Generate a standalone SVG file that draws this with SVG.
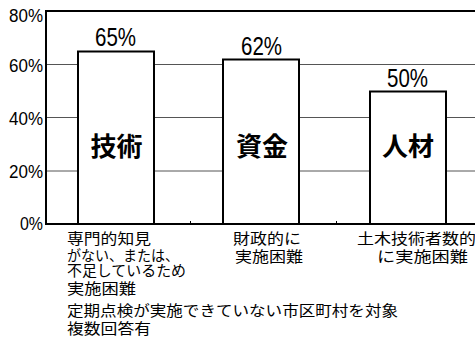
<svg xmlns="http://www.w3.org/2000/svg" width="475" height="339" viewBox="0 0 475 339">
<style>
.grid{stroke:#555;stroke-width:1;fill:none}
.axis{stroke:#000;stroke-width:2;fill:none}
.bar{fill:#fff;stroke:#000;stroke-width:2}
.ax{font-family:"Liberation Sans",Arial,sans-serif;font-size:18px;fill:#000;text-anchor:end}
.val{font-family:"Liberation Sans",Arial,sans-serif;font-size:25px;fill:#000}
.blab{font-family:"Noto Sans CJK JP","Noto Sans",sans-serif;font-size:26px;font-weight:bold;fill:#000;text-anchor:middle}
.cat{font-family:"Noto Sans CJK JP","Noto Sans",sans-serif;font-size:14.5px;fill:#000}
</style>
<rect width="475" height="339" fill="#fff"/>
<g id="grid">
<line class="grid" x1="46" y1="64.5" x2="475" y2="64.5"/>
<line class="grid" x1="46" y1="117.5" x2="475" y2="117.5"/>
<line class="grid" x1="46" y1="171" x2="475" y2="171"/>
</g>
<g id="axes">
<line class="axis" x1="46" y1="11" x2="475" y2="11"/>
<line class="axis" x1="46" y1="10" x2="46" y2="225"/>
<line class="axis" x1="45" y1="224" x2="475" y2="224"/>
<line stroke="#000" stroke-width="1" x1="190.5" y1="221" x2="190.5" y2="224"/>
<line stroke="#000" stroke-width="1" x1="336.5" y1="221" x2="336.5" y2="224"/>
<text class="ax" x="43" y="22" textLength="34" lengthAdjust="spacingAndGlyphs">80%</text>
<text class="ax" x="43" y="72" textLength="34" lengthAdjust="spacingAndGlyphs">60%</text>
<text class="ax" x="43" y="125" textLength="34" lengthAdjust="spacingAndGlyphs">40%</text>
<text class="ax" x="43" y="178" textLength="34" lengthAdjust="spacingAndGlyphs">20%</text>
<text class="ax" x="43" y="230" textLength="23" lengthAdjust="spacingAndGlyphs">0%</text>
</g>
<g id="bar-gijutsu">
<rect class="bar" x="78" y="51.5" width="76" height="172.5"/>
<text class="val" x="95" y="46" textLength="41" lengthAdjust="spacingAndGlyphs">65%</text>
<text class="blab" x="116.5" y="156">技術</text>
</g>
<g id="bar-shikin">
<rect class="bar" x="223" y="59.5" width="76" height="164.5"/>
<text class="val" x="241" y="55" textLength="41" lengthAdjust="spacingAndGlyphs">62%</text>
<text class="blab" x="262" y="156">資金</text>
</g>
<g id="bar-jinzai">
<rect class="bar" x="370" y="91.5" width="76" height="132.5"/>
<text class="val" x="387" y="87" textLength="41" lengthAdjust="spacingAndGlyphs">50%</text>
<text class="blab" x="408" y="156">人材</text>
</g>
<g id="labels">
<text class="cat" x="67" y="244" textLength="84" lengthAdjust="spacingAndGlyphs">専門的知見</text>
<text class="cat" x="67" y="261" textLength="112" lengthAdjust="spacingAndGlyphs">がない、または、</text>
<text class="cat" x="67" y="276" textLength="119" lengthAdjust="spacingAndGlyphs">不足しているため</text>
<text class="cat" x="67" y="294" textLength="69" lengthAdjust="spacingAndGlyphs">実施困難</text>
<text class="cat" x="67" y="316" textLength="331" lengthAdjust="spacingAndGlyphs">定期点検が実施できていない市区町村を対象</text>
<text class="cat" x="67" y="334" textLength="84" lengthAdjust="spacingAndGlyphs">複数回答有</text>
<text class="cat" x="233" y="244" textLength="68" lengthAdjust="spacingAndGlyphs">財政的に</text>
<text class="cat" x="235" y="262" textLength="68" lengthAdjust="spacingAndGlyphs">実施困難</text>
<text class="cat" x="357" y="244" textLength="119" lengthAdjust="spacingAndGlyphs">土木技術者数的</text>
<text class="cat" x="377" y="262" textLength="91" lengthAdjust="spacingAndGlyphs">に実施困難</text>
</g>
</svg>
